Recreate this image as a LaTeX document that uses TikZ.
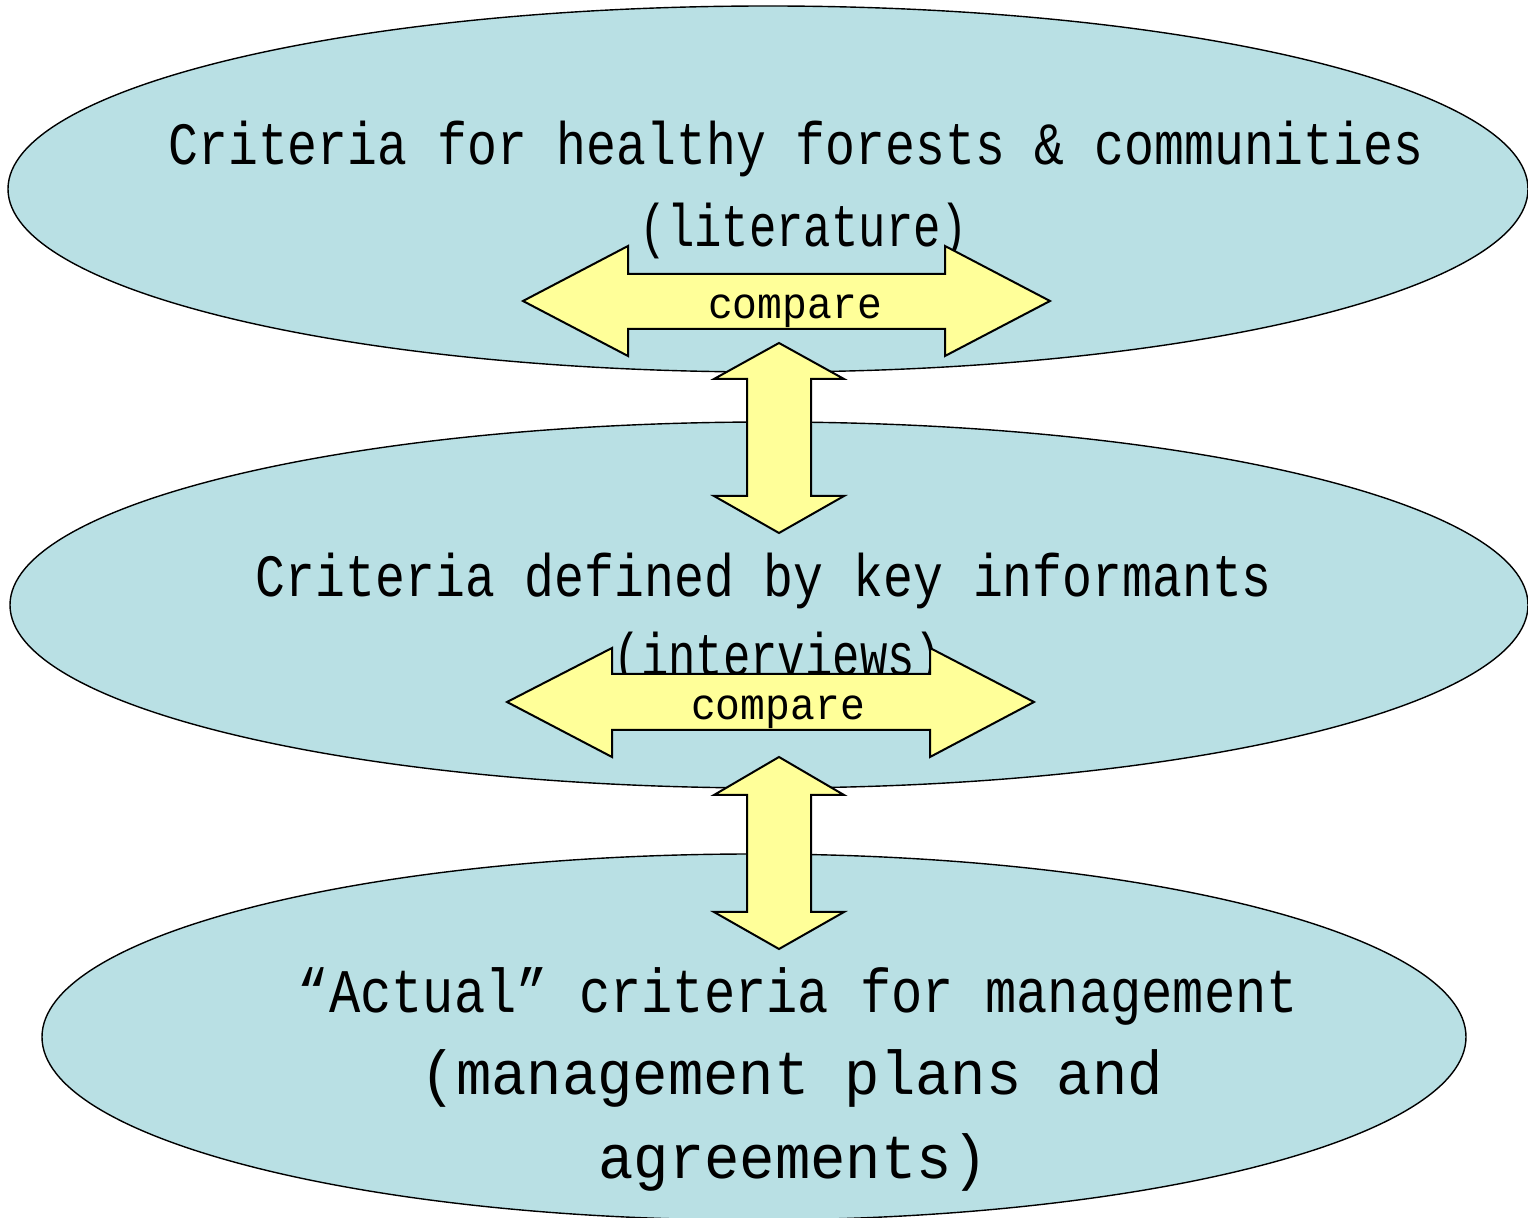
\documentclass[tikz,border=0pt]{standalone}
\usepackage{fontspec}
\usetikzlibrary{shapes.geometric}
\newfontfamily\ftbig[FakeStretch=0.83]{Liberation Mono}
\newfontfamily\ftsub[FakeStretch=0.76]{Liberation Mono}
\newfontfamily\ftlowa[FakeStretch=0.84]{Liberation Mono}
\newfontfamily\ftlowb[FakeStretch=0.95]{Liberation Mono}
\newfontfamily\ftcmp[FakeStretch=0.94]{Liberation Mono}
\definecolor{ellfill}{RGB}{185,224,228}
\definecolor{arrfill}{RGB}{255,255,153}
\begin{document}
\begin{tikzpicture}[x=0.5pt,y=-0.5pt,
  oval/.style={ellipse, draw=black, line width=0.7pt, fill=ellfill, inner sep=0pt},
  blockarrow/.style={draw=black, line width=1pt, fill=arrfill, line join=miter},
  lblup/.style={anchor=base, inner sep=0pt, font=\ftbig\fontsize{30}{34}\selectfont},
  lblsub/.style={anchor=base, inner sep=0pt, font=\ftsub\fontsize{30}{34}\selectfont},
  lbllowa/.style={anchor=base, inner sep=0pt, font=\ftlowa\fontsize{31}{35}\selectfont},
  lbllowb/.style={anchor=base, inner sep=0pt, font=\ftlowb\fontsize{31}{35}\selectfont},
  lblcmp/.style={anchor=base, inner sep=0pt, font=\ftcmp\fontsize{22}{26}\selectfont}]
\useasboundingbox (0,0) rectangle (1528,1218);
\clip (0,0) rectangle (1528,1218);
\fill[white] (0,0) rectangle (1528,1218);
% ellipses
\node[oval, minimum width=760pt, minimum height=183pt] (e1) at (768,189) {};
\node[oval, minimum width=759pt, minimum height=183pt] (e2) at (769,605) {};
\node[oval, minimum width=712pt, minimum height=183pt] (e3) at (754,1037) {};
% texts
\node[lblup] (t1a) at (796,165) {Criteria for healthy forests \& communities};
\node[lblsub] (t1b) at (804,247) {(literature)};
\node[lblup] (t2a) at (764,597) {Criteria defined by key informants};
\node[lblsub] (t2b) at (778,676) {(interviews)};
\node[lbllowa] (t3a) at (798,1013) {“Actual” criteria for management};
\node[lbllowb] (t3b) at (792,1095) {(management plans and};
\node[lbllowb] (t3c) at (793,1179) {agreements)};
% horizontal double arrows
\draw[blockarrow] (523,301) -- (628,246) -- (628,274) -- (945,274) -- (945,246) -- (1050,301)
  -- (945,356) -- (945,329) -- (628,329) -- (628,356) -- cycle;
\draw[blockarrow] (507,702) -- (612,648) -- (612,674) -- (930,674) -- (930,648) -- (1034,702)
  -- (930,757) -- (930,730) -- (612,730) -- (612,757) -- cycle;
% vertical double arrows
\draw[blockarrow] (779,343) -- (844,379) -- (811,379) -- (811,496) -- (844,496) -- (779,533)
  -- (714,496) -- (747,496) -- (747,379) -- (714,379) -- cycle;
\draw[blockarrow] (779,757) -- (844,795) -- (811,795) -- (811,912) -- (844,912) -- (779,949)
  -- (714,912) -- (747,912) -- (747,795) -- (714,795) -- cycle;
% compare labels
\node[lblcmp] (c1) at (795,319) {compare};
\node[lblcmp] (c2) at (778,720) {compare};
\end{tikzpicture}
\end{document}
